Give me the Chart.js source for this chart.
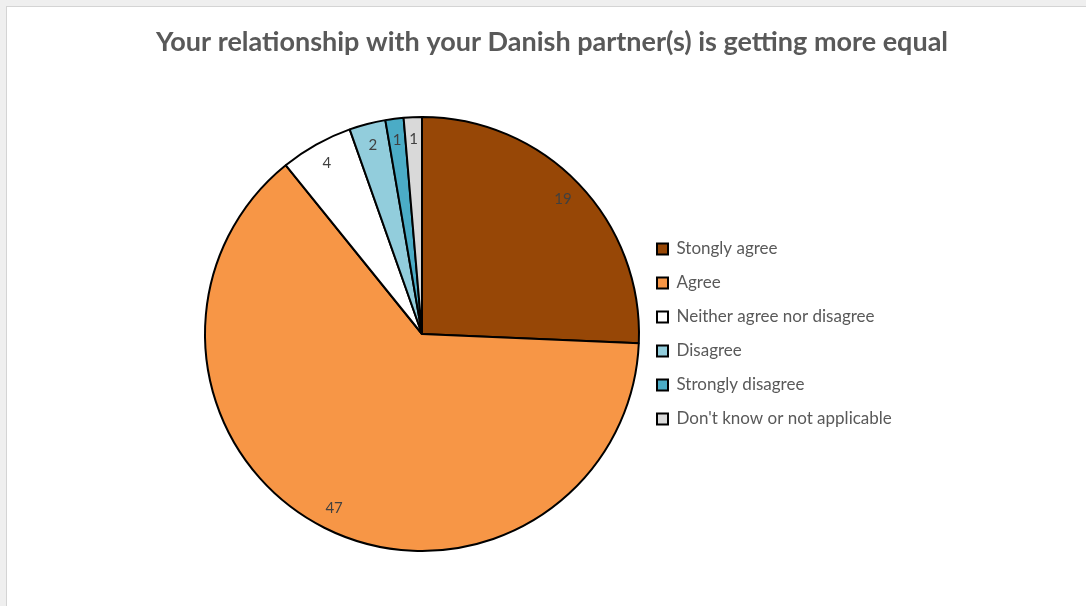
<!DOCTYPE html>
<html>
<head>
<meta charset="utf-8">
<script src="https://cdn.jsdelivr.net/npm/chart.js@4.4.1/dist/chart.umd.min.js"></script>
<style>
  html, body { margin: 0; padding: 0; background: #efefef; overflow: hidden; }
  #frame {
    position: absolute; left: 6px; top: 6px;
    width: 1090px; height: 610px;
    background: #ffffff;
    border-left: 1px solid #d4d4d4;
    border-top: 1px solid #d4d4d4;
  }
  #frame canvas { position: absolute; left: 0; top: 0; }
</style>
</head>
<body>
<div id="frame"><canvas id="equalityChart" width="1090" height="599"></canvas></div>
<script>
const CHART_TITLE = 'Your relationship with your Danish partner(s) is getting more equal';
const ANSWER_LABELS = [
  'Stongly agree',
  'Agree',
  'Neither agree nor disagree',
  'Disagree',
  'Strongly disagree',
  "Don't know or not applicable"
];
const ANSWER_COUNTS = [19, 47, 4, 2, 1, 1];
const SLICE_COLORS = ['#974706', '#F79646', '#FFFFFF', '#92CDDC', '#4BACC6', '#D9D9D9'];

const FONT_FAMILY = 'Lato, "Open Sans", sans-serif';

// heading across the full canvas width (the built-in title gets squeezed
// into the padded area, so it is drawn here instead)
const chartHeading = {
  id: 'chartHeading',
  afterDraw(chart) {
    const ctx = chart.ctx;
    ctx.save();
    ctx.font = 'bold 27px ' + FONT_FAMILY;
    ctx.fillStyle = '#595959';
    ctx.textAlign = 'center';
    ctx.textBaseline = 'middle';
    ctx.fillText(CHART_TITLE, chart.width / 2, 35);
    ctx.restore();
  }
};

// writes each count inside its slice, near the rim
const sliceValueLabels = {
  id: 'sliceValueLabels',
  afterDatasetsDraw(chart) {
    const ctx = chart.ctx;
    const meta = chart.getDatasetMeta(0);
    ctx.save();
    ctx.font = '15px ' + FONT_FAMILY;
    ctx.fillStyle = '#404040';
    ctx.textAlign = 'center';
    ctx.textBaseline = 'middle';
    meta.data.forEach((arc, i) => {
      const p = arc.getProps(['x', 'y', 'startAngle', 'endAngle', 'outerRadius'], true);
      const mid = (p.startAngle + p.endAngle) / 2;
      const r = p.outerRadius * 0.9;
      ctx.fillText(String(ANSWER_COUNTS[i]), p.x + Math.cos(mid) * r, p.y + Math.sin(mid) * r);
    });
    ctx.restore();
  }
};

new Chart(document.getElementById('equalityChart'), {
  type: 'pie',
  data: {
    labels: ANSWER_LABELS,
    datasets: [{
      data: ANSWER_COUNTS,
      backgroundColor: SLICE_COLORS,
      borderColor: '#000000',
      borderWidth: 2
    }]
  },
  options: {
    responsive: false,
    animation: false,
    layout: {
      padding: { left: 197, right: 197, top: 109, bottom: 54 }
    },
    plugins: {
      title: { display: false },
      legend: {
        position: 'right',
        fullSize: false,
        maxWidth: 260,
        labels: {
          boxWidth: 11,
          boxHeight: 11,
          padding: 17,
          color: '#595959',
          font: { family: FONT_FAMILY, size: 17 }
        }
      },
      tooltip: { enabled: false }
    }
  },
  plugins: [chartHeading, sliceValueLabels]
});
</script>
</body>
</html>
